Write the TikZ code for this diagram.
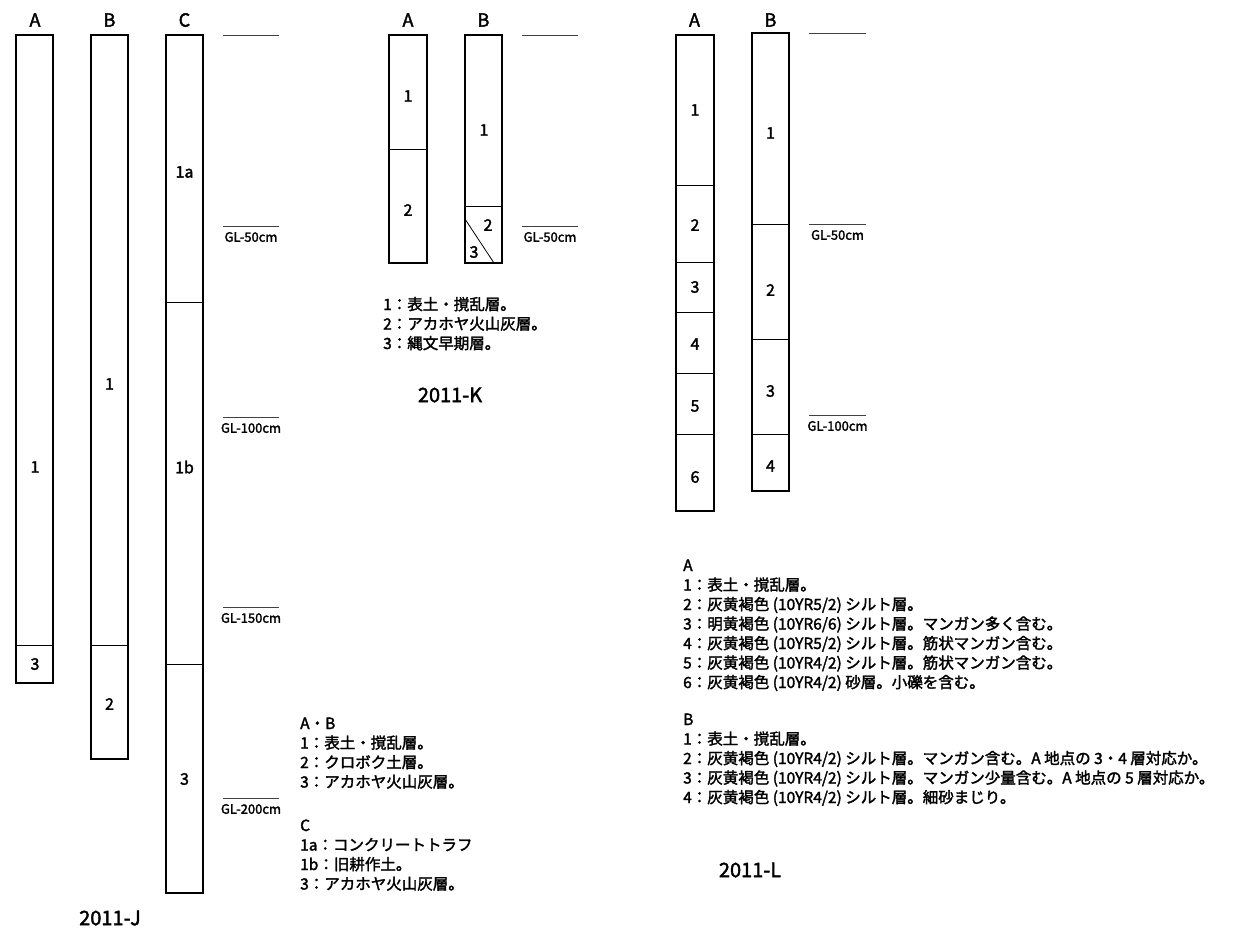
\documentclass[tikz,border=0pt]{standalone}
\usepackage{fontspec}
\newfontfamily\jpfont{Noto Sans CJK JP}[FakeBold=2]
\begin{document}
\begin{tikzpicture}[x=1pt,y=-1pt,
	col/.style={line width=1.8pt},
	div/.style={line width=0.8pt},
	gl/.style={line width=0.8pt,black!75},
	hd/.style={font=\jpfont\fontsize{18}{20}\selectfont,inner sep=0pt},
	num/.style={font=\jpfont\fontsize{16}{18}\selectfont,inner sep=0pt},
	gltext/.style={font=\jpfont\fontsize{13}{15}\selectfont,inner sep=0pt},
	leg/.style={font=\jpfont\fontsize{15.5}{19.5}\selectfont,inner sep=0pt,align=left,anchor=base west},
	ttl/.style={font=\jpfont\fontsize{20}{22}\selectfont,inner sep=0pt}]
	\useasboundingbox (0,0) rectangle (1233,940);
	% 2011-J
	\draw[col] (16,35) rectangle (53,683);
	\draw[col] (91,35) rectangle (128,759);
	\draw[col] (166,35) rectangle (203,893);
	\draw[div] (16,645)--(53,645);
	\draw[div] (91,645)--(128,645);
	\foreach \y in {302,664}
	\draw[div] (166,\y)--(203,\y);
	\node[hd] (jAh) at (35,20) {A};
	\node[hd] (jBh) at (109.5,20) {B};
	\node[hd] (jCh) at (184.5,20) {C};
	\node[num] (jA1) at (35,467) {1};
	\node[num] (jA3) at (35,664) {3};
	\node[num] (jB1) at (109.5,384) {1};
	\node[num] (jB2) at (109.5,704) {2};
	\node[num] (jC1a) at (184.5,172) {1a};
	\node[num] (jC1b) at (184.5,467) {1b};
	\node[num] (jC3) at (184.5,779) {3};
	\draw[gl] (223,35)--(279,35);
	\foreach \y/\d in {226/50,417/100,607/150,798/200}{
		\draw[gl] (223,\y)--(279,\y);
		\node[gltext] (jgl\d) at (251,\y+11) {GL-\d cm};
	}
	% legends: base = last line
	\node[leg] (jlegab) at (300,787.5) {A・B\\1：表土・撹乱層。\\2：クロボク土層。\\3：アカホヤ火山灰層。};
	\node[leg] (jlegc) at (300,889.5) {C\\1a：コンクリートトラフ\\1b：旧耕作土。\\3：アカホヤ火山灰層。};
	\node[ttl] (jttl) at (110,918) {2011-J};
	% 2011-K
	\draw[col] (389,35) rectangle (427,263);
	\draw[col] (465,35) rectangle (502,263);
	\draw[div] (389,149)--(427,149);
	\draw[div] (465,206)--(502,206);
	\draw[div] (465,219)--(494,263);
	\node[hd] (kAh) at (408,20) {A};
	\node[hd] (kBh) at (483.5,20) {B};
	\node[num] (kA1) at (408,96) {1};
	\node[num] (kA2) at (408,210) {2};
	\node[num] (kB1) at (484,130) {1};
	\node[num] (kB2) at (488,225) {2};
	\node[num] (kB3) at (474,252) {3};
	\draw[gl] (522,35)--(578,35);
	\draw[gl] (522,226)--(578,226);
	\node[gltext] (kgl50) at (550,237) {GL-50cm};
	\node[leg] (kleg) at (383,349) {1：表土・撹乱層。\\2：アカホヤ火山灰層。\\3：縄文早期層。};
	\node[ttl] (kttl) at (450,395) {2011-K};
	% 2011-L
	\draw[col] (676,35) rectangle (714,511);
	\draw[col] (752,33) rectangle (789,491);
	\foreach \y in {185,262,312,373,434}
	\draw[div] (676,\y)--(714,\y);
	\foreach \y in {224,339,434}
	\draw[div] (752,\y)--(789,\y);
	\node[hd] (lAh) at (694.5,20) {A};
	\node[hd] (lBh) at (770.5,20) {B};
	\foreach \y/\n in {110/1,225/2,287/3,344/4,406/5,477/6}
	\node[num] (lA\n) at (695,\y) {\n};
	\foreach \y/\n in {133/1,290/2,391/3,466/4}
	\node[num] (lB\n) at (770.5,\y) {\n};
	\draw[gl] (809,33)--(866,33);
	\foreach \y/\d in {224/50,415/100}{
		\draw[gl] (809,\y)--(866,\y);
		\node[gltext] (lgl\d) at (837.5,\y+11) {GL-\d cm};
	}
	\node[leg] (llega) at (683,688) {A\\1：表土・撹乱層。\\2：灰黄褐色 (10YR5/2) シルト層。\\3：明黄褐色 (10YR6/6) シルト層。マンガン多く含む。\\4：灰黄褐色 (10YR5/2) シルト層。筋状マンガン含む。\\5：灰黄褐色 (10YR4/2) シルト層。筋状マンガン含む。\\6：灰黄褐色 (10YR4/2) 砂層。小礫を含む。};
	\node[leg] (llegb) at (683,803) {B\\1：表土・撹乱層。\\2：灰黄褐色 (10YR4/2) シルト層。マンガン含む。A 地点の 3・4 層対応か。\\3：灰黄褐色 (10YR4/2) シルト層。マンガン少量含む。A 地点の 5 層対応か。\\4：灰黄褐色 (10YR4/2) シルト層。細砂まじり。};
	\node[ttl] (lttl) at (750,870) {2011-L};
\end{tikzpicture}
\end{document}
